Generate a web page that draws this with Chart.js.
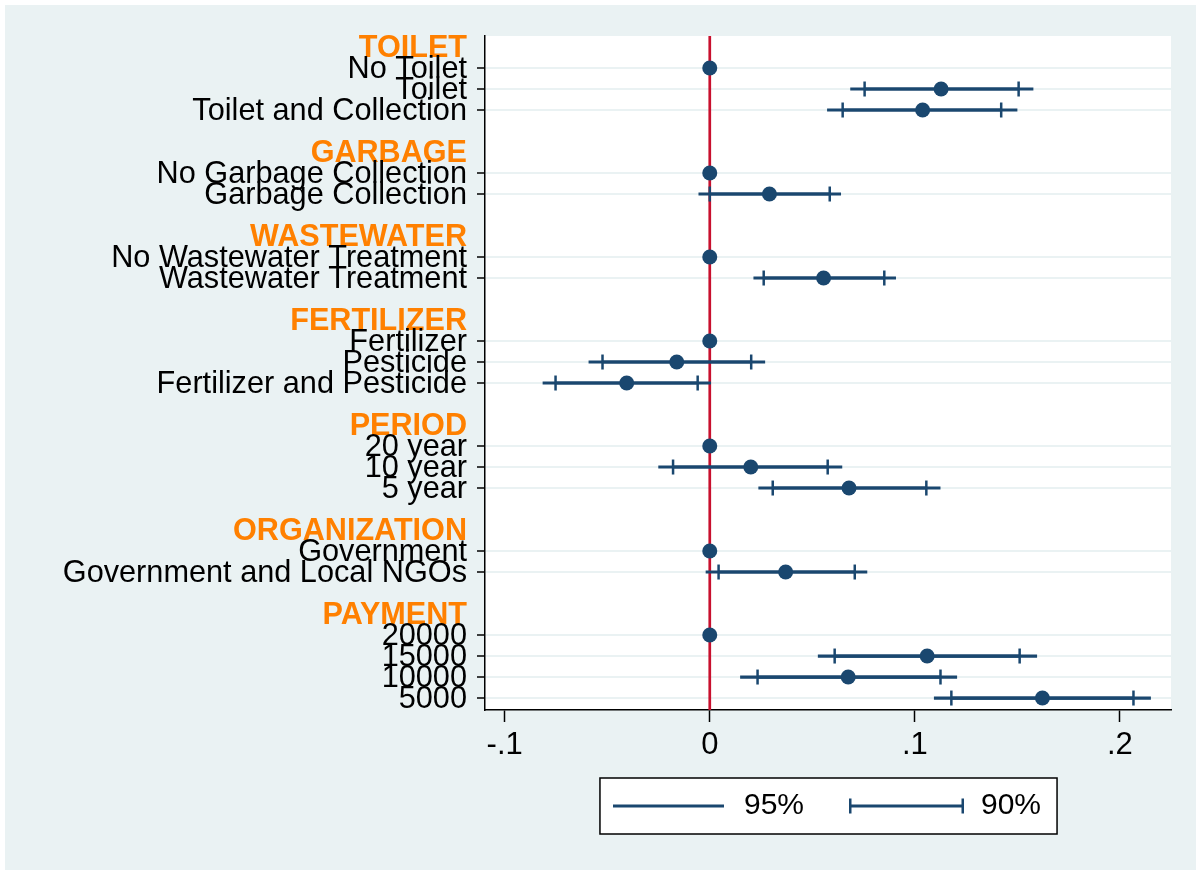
<!DOCTYPE html>
<html>
<head>
<meta charset="utf-8">
<script src="https://cdn.jsdelivr.net/npm/chart.js@4.4.1/dist/chart.umd.min.js"></script>
<style>
html,body{margin:0;padding:0;background:#ffffff;}
#c{display:block;width:1196px;height:870px;}
</style>
</head>
<body>
<canvas id="c" width="1196" height="870"></canvas>
<script>
// ---------------- data ----------------
const groupNames = ['TOILET', 'GARBAGE', 'WASTEWATER', 'FERTILIZER', 'PERIOD', 'ORGANIZATION', 'PAYMENT'];
const categories = [
  'No Toilet', 'Toilet', 'Toilet and Collection',
  'No Garbage Collection', 'Garbage Collection',
  'No Wastewater Treatment', 'Wastewater Treatment',
  'Fertilizer', 'Pesticide', 'Fertilizer and Pesticide',
  '20 year', '10 year', '5 year',
  'Government', 'Government and Local NGOs',
  '20000', '15000', '10000', '5000'
];
const categoryGroup = [0,0,0, 1,1, 2,2, 3,3,3, 4,4,4, 5,5, 6,6,6,6];
const estimates = [0, 0.1128, 0.1038, 0, 0.0291, 0, 0.0555, 0, -0.0161, -0.0405, 0, 0.0200, 0.0679, 0, 0.0370, 0, 0.1060, 0.0675, 0.1622];
const ci95Low  = [null, 0.0685, 0.0572, null, -0.0055, null, 0.0213, null, -0.0591, -0.0815, null, -0.0251, 0.0237, null, -0.0020, null, 0.0527, 0.0148, 0.1093];
const ci95High = [null, 0.1578, 0.1500, null, 0.0640, null, 0.0908, null, 0.0270, 0.0006, null, 0.0646, 0.1125, null, 0.0768, null, 0.1596, 0.1206, 0.2151];
const ci90Low  = [null, 0.0755, 0.0648, null, 0.0000, null, 0.0263, null, -0.0523, -0.0752, null, -0.0179, 0.0307, null, 0.0043, null, 0.0609, 0.0233, 0.1178];
const ci90High = [null, 0.1506, 0.1421, null, 0.0585, null, 0.0851, null, 0.0202, -0.0059, null, 0.0575, 0.1056, null, 0.0707, null, 0.1511, 0.1125, 0.2066];
const ciLevels = ['95%', '90%'];
const xTicks = [-0.1, 0, 0.1, 0.2];
const xTickLabels = ['-.1', '0', '.1', '.2'];
const xMin = -0.1096, xMax = 0.2249;
const yMin = -0.524, yMax = 31.57;
const refLineValue = 0;

// ---------------- styling ----------------
const FONT = "'Liberation Sans', Arial, Helvetica, sans-serif";
const NAVY = '#1a476f';
const RED = '#c8102e';
const ORANGE = '#ff8000';
const BG = '#eaf2f3';
const LEGEND_SHIFT = 22;

// ---------------- derived ----------------
const rowPos = categories.map((_, i) => i + 1 + 2 * categoryGroup[i]);
const headerPos = groupNames.map((_, g) => rowPos[categoryGroup.indexOf(g)] - 1);
const labelByPos = {};
const headerSet = new Set(headerPos);
headerPos.forEach((p, g) => { labelByPos[p] = groupNames[g]; });
rowPos.forEach((p, i) => { labelByPos[p] = categories[i]; });
const yTickValues = [...headerPos, ...rowPos].sort((a, b) => a - b);

function segments(lo, hi) {
  const out = [];
  rowPos.forEach((p, i) => {
    if (lo[i] === null || hi[i] === null) return;
    out.push({x: lo[i], y: p}, {x: hi[i], y: p}, {x: hi[i], y: null});
  });
  return out;
}
function capPoints(lo, hi) {
  const out = [];
  rowPos.forEach((p, i) => {
    if (lo[i] === null) return;
    out.push({x: lo[i], y: p}, {x: hi[i], y: p});
  });
  return out;
}

// legend symbols (canvas is centred on the legend box)
function makeSymbol(capped, x0, x1) {
  const c = document.createElement('canvas');
  c.width = 120; c.height = 16;
  const g = c.getContext('2d');
  g.strokeStyle = NAVY;
  g.lineWidth = 3.2;
  g.beginPath(); g.moveTo(x0, 8); g.lineTo(x1, 8); g.stroke();
  if (capped) {
    g.lineWidth = 2.5;
    g.beginPath();
    g.moveTo(x0 + 1.25, 0.5); g.lineTo(x0 + 1.25, 15.5);
    g.moveTo(x1 - 1.25, 0.5); g.lineTo(x1 - 1.25, 15.5);
    g.stroke();
  }
  return c;
}
const legendSymbols = [makeSymbol(false, 1, 112), makeSymbol(true, 0, 115)];

const layoutPlugin = {
  id: 'legendShift',
  afterLayout(chart) {
    const lg = chart.legend;
    if (lg) { lg.top -= LEGEND_SHIFT; lg.bottom -= LEGEND_SHIFT; }
  }
};

const backgroundPlugin = {
  id: 'bgFrame',
  beforeDraw(chart) {
    const ctx = chart.ctx;
    const a = chart.chartArea;
    ctx.save();
    ctx.fillStyle = '#ffffff';
    ctx.fillRect(0, 0, chart.width, chart.height);
    ctx.fillStyle = BG;
    ctx.fillRect(5, 5, chart.width - 5, chart.height - 5);
    ctx.fillStyle = '#ffffff';
    ctx.fillRect(a.left, a.top, a.right - a.left, a.bottom - a.top);
    const lg = chart.legend;
    if (lg && lg.legendHitBoxes && lg.legendHitBoxes.length) {
      const hb = lg.legendHitBoxes;
      const last = hb[hb.length - 1];
      const left = hb[0].left - 15;
      const right = last.left + last.width + 16;
      const cy = hb[0].top + hb[0].height / 2;
      ctx.fillStyle = '#ffffff';
      ctx.fillRect(left, cy - 28, right - left, 56);
      ctx.strokeStyle = '#000000';
      ctx.lineWidth = 1.5;
      ctx.strokeRect(left, cy - 28, right - left, 56);
    }
    ctx.restore();
  }
};

new Chart(document.getElementById('c'), {
  type: 'scatter',
  data: {
    datasets: [
      {
        label: 'estimate',
        data: rowPos.map((p, i) => ({x: estimates[i], y: p})),
        pointRadius: 7.5,
        pointBackgroundColor: NAVY,
        pointBorderWidth: 0,
        showLine: false
      },
      {
        label: '90% caps',
        data: capPoints(ci90Low, ci90High),
        pointStyle: 'line',
        rotation: 90,
        pointRadius: 7.5,
        pointBorderColor: NAVY,
        pointBorderWidth: 2.5,
        showLine: false
      },
      {
        type: 'line',
        label: ciLevels[1],
        data: segments(ci90Low, ci90High),
        borderColor: NAVY,
        borderWidth: 3.2,
        pointRadius: 0,
        spanGaps: false,
        tension: 0,
        borderCapStyle: 'butt'
      },
      {
        type: 'line',
        label: ciLevels[0],
        data: segments(ci95Low, ci95High),
        borderColor: NAVY,
        borderWidth: 3.2,
        pointRadius: 0,
        spanGaps: false,
        tension: 0,
        borderCapStyle: 'butt'
      },
      {
        type: 'line',
        label: 'zero',
        data: [{x: refLineValue, y: yMin}, {x: refLineValue, y: yMax}],
        borderColor: RED,
        borderWidth: 2.7,
        pointRadius: 0,
        tension: 0
      }
    ]
  },
  options: {
    responsive: false,
    animation: false,
    events: [],
    layout: {padding: {left: 5, right: 25, top: 36, bottom: 17}},
    scales: {
      x: {
        type: 'linear',
        position: 'bottom',
        min: xMin,
        max: xMax,
        afterBuildTicks: (s) => { s.ticks = xTicks.map(v => ({value: v})); },
        afterFit: (s) => { s.height = 55; },
        ticks: {
          autoSkip: false,
          maxRotation: 0,
          padding: 5,
          color: '#000000',
          font: {family: FONT, size: 31},
          callback: (v, i) => xTickLabels[i]
        },
        grid: {
          drawOnChartArea: false,
          drawTicks: true,
          tickLength: 12,
          tickColor: '#000000',
          tickWidth: 1.5
        },
        border: {display: true, color: '#000000', width: 1.5}
      },
      y: {
        type: 'linear',
        position: 'left',
        reverse: true,
        min: yMin,
        max: yMax,
        afterBuildTicks: (s) => { s.ticks = yTickValues.map(v => ({value: v})); },
        afterFit: (s) => { s.width = 480; },
        ticks: {
          autoSkip: false,
          padding: 10,
          labelOffset: 2,
          color: (ctx) => (ctx.tick && headerSet.has(ctx.tick.value)) ? ORANGE : '#000000',
          font: (ctx) => (ctx.tick && headerSet.has(ctx.tick.value))
            ? {family: FONT, size: 30.6, weight: 'bold'}
            : {family: FONT, size: 30.7, weight: 'normal'},
          callback: (v) => labelByPos[v]
        },
        grid: {
          drawOnChartArea: true,
          drawTicks: true,
          tickLength: 8,
          lineWidth: 2,
          tickWidth: 1.5,
          color: (ctx) => (ctx.tick && headerSet.has(ctx.tick.value)) ? 'rgba(0,0,0,0)' : BG,
          tickColor: (ctx) => (ctx.tick && headerSet.has(ctx.tick.value)) ? 'rgba(0,0,0,0)' : '#000000'
        },
        border: {display: true, color: '#000000', width: 1.5}
      }
    },
    plugins: {
      tooltip: {enabled: false},
      title: {display: false},
      legend: {
        display: true,
        position: 'bottom',
        align: 'center',
        fullSize: false,
        labels: {
          usePointStyle: true,
          pointStyleWidth: 114,
          padding: 48,
          color: '#000000',
          font: {family: FONT, size: 30},
          generateLabels: () => ciLevels.map((t, i) => ({
            text: t,
            pointStyle: legendSymbols[i],
            fillStyle: NAVY,
            strokeStyle: NAVY,
            lineWidth: 0,
            hidden: false,
            fontColor: '#000000',
            datasetIndex: 3 - i
          }))
        }
      }
    }
  },
  plugins: [layoutPlugin, backgroundPlugin]
});
</script>
</body>
</html>
